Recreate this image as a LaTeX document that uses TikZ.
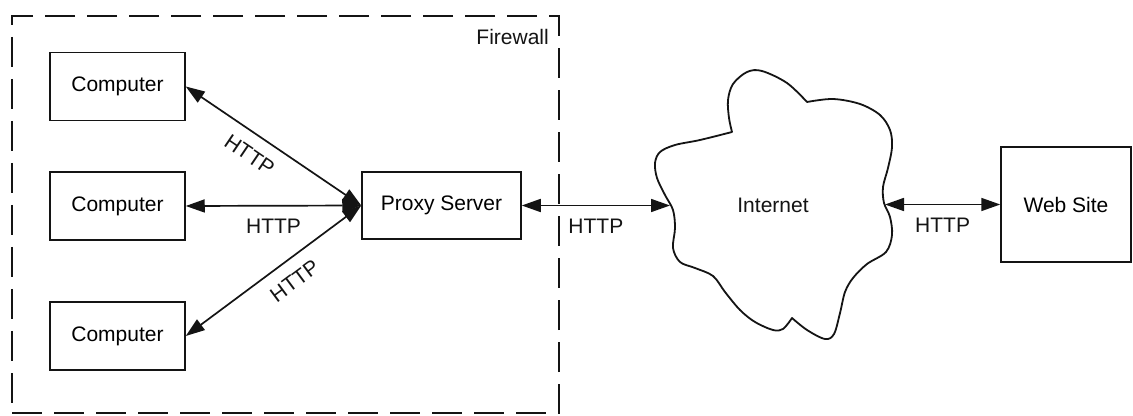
\documentclass[tikz,border=0pt]{standalone}
\usepackage{fontspec}
\setmainfont{Liberation Sans}
\usetikzlibrary{arrows.meta,positioning}
\definecolor{figInk}{HTML}{141414}
\tikzset{
  fig/base/.style={draw=figInk, line width=0.75pt, align=center,
    font=\fontsize{10.5}{12.6}\selectfont, inner sep=2pt},
  fig/host/.style={fig/base, minimum width=67.5pt, minimum height=34pt},
  fig/proxy/.style={fig/base, minimum width=79.5pt, minimum height=33.5pt},
  fig/site/.style={fig/base, minimum width=65pt, minimum height=57.5pt},
  fig/label/.style={font=\fontsize{10.5}{12.6}\selectfont, text=figInk},
  % the firewall frame and the cloud outline are the only non-box shapes
  fig/zone/.style={draw=figInk, line width=1.2pt, dash pattern=on 15pt off 6pt,
    inner sep=0pt},
  fig/cloud/.style={draw=figInk, line width=0.9pt, line join=round},
  fig/link/.style={{Triangle[length=9.5pt,width=6.5pt]}-{Triangle[length=9.5pt,width=6.5pt]},
    draw=figInk, line width=0.85pt},
  fig/proto/.style={fig/label, below=3pt},
}

\begin{document}
\begin{tikzpicture}[x=0.5pt, y=-0.5pt]
\useasboundingbox[fill=white] (0,0) rectangle (1133,416);
\node[fig/zone, minimum width=273.5pt, minimum height=198.5pt] (fw) at (285.5,214.5) {};
\node[fig/label, anchor=north east, inner sep=0pt] (fwlabel)
  at ([xshift=-5.5pt,yshift=-7pt]fw.north east) {Firewall};

\node[fig/host] (c1) at (117.5,86.5) {Computer};
\node[fig/host] (c2) at (117.5,206) {Computer};
\node[fig/host] (c3) at (117.5,336) {Computer};
\node[fig/proxy] (proxy) at (441.5,205.5) {Proxy Server};
\node[fig/label] (inet) at (773,205) {Internet};
\node[fig/site] (web) at (1066,204.5) {Web Site};
\coordinate (inetW) at (670,205.5);
\coordinate (inetE) at (885,204.5);

\draw[fig/cloud]
  plot[smooth, tension=0.55] coordinates {(732,132) (729,118) (728,100) (733,84)
    (747,72) (762,71) (787,83) (807,102)}
  -- plot[smooth, tension=0.55] coordinates {(807,102) (833,99) (860,104) (880,115)
    (890,130) (892,147) (888,168) (883,187) (884,203) (890,217) (892,235)
    (886,252) (867,264) (853,278) (845,292) (840,313) (834,334) (825,339)
    (807,330) (792,318)}
  -- plot[smooth, tension=0.55] coordinates {(792,318) (783,329) (773,330)
    (755,322) (740,310) (725,292) (713,276) (695,268) (680,262) (673,248)
    (675,228) (673,210) (665,195) (657,178) (655,163) (660,152) (675,145)
    (700,140) (732,132)}
  -- cycle;

\draw[fig/link] (c1.east) -- node[fig/proto, sloped, pos=0.43] {HTTP} (proxy.west);
\draw[fig/link] (c2.east) -- node[fig/proto] {HTTP} (proxy.west);
\draw[fig/link] (c3.east) -- node[fig/proto, sloped, pos=0.55] {HTTP} (proxy.west);
\draw[fig/link] (proxy.east) -- node[fig/proto] {HTTP} (inetW);
\draw[fig/link] (inetE) -- node[fig/proto] {HTTP} (web.west);
\end{tikzpicture}
\end{document}
